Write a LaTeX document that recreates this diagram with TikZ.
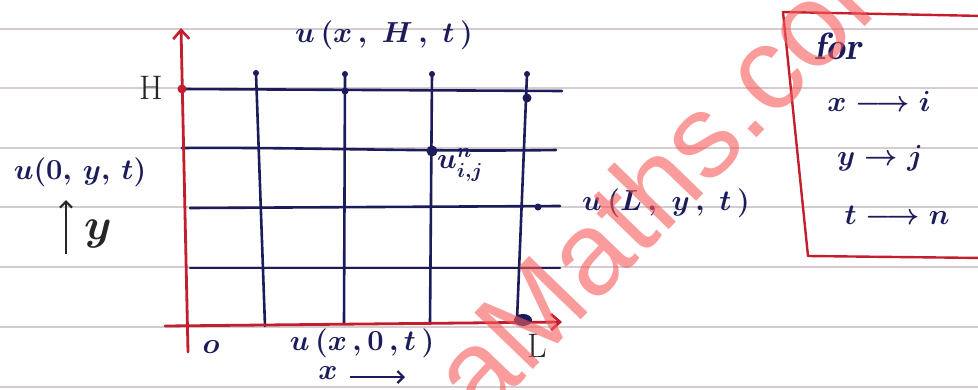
\RequirePackage{fix-cm}
\documentclass[tikz,border=0pt]{standalone}
\usepackage{fontspec}
\usetikzlibrary{arrows.meta}
\newfontfamily\wmfont{Liberation Sans}
\definecolor{ink}{RGB}{28,28,92}
\definecolor{redink}{RGB}{195,30,45}
\definecolor{ruled}{RGB}{212,204,207}
\definecolor{wm}{RGB}{248,90,90}
\tikzset{
  ruleline/.style={ruled, line width=1.2pt},
  gridline/.style={ink, line width=2.6pt, line cap=round},
  axisline/.style={redink, line width=2.8pt, line cap=round},
  hw/.style={ink, inner sep=0pt, font=\fontsize{29}{33}\selectfont\boldmath},
  barb/.style={-{Straight Barb[length=6pt,width=12pt,line width=2.2pt]}}
}
\begin{document}
\begin{tikzpicture}[x=1pt,y=-1pt]
\useasboundingbox (0,0) rectangle (978,389);
\fill[white] (0,0) rectangle (978,389);
\clip (0,0) rectangle (978,389);
% ruled notebook lines
\foreach \yy in {29,88,148,207,267,327,387}
  \draw[ruleline] (0,\yy) -- (978,\yy);
% grid coordinates
\coordinate (h1a) at (182,89);  \coordinate (h1b) at (562,91);
\coordinate (h2a) at (182,148); \coordinate (h2b) at (556,150);
\coordinate (h3a) at (190,208); \coordinate (h3b) at (560,206);
\coordinate (h4a) at (190,268); \coordinate (h4b) at (560,268);
\coordinate (v1a) at (256,73);  \coordinate (v1b) at (265,326);
\coordinate (v2a) at (345,74);  \coordinate (v2b) at (344,324);
\coordinate (v3a) at (432,74);  \coordinate (v3b) at (430,324);
\coordinate (v4a) at (527,74);  \coordinate (v4b) at (517,320);
\draw[gridline] (h1a) -- (h1b);
\draw[gridline] (h2a) .. controls (300,147) and (420,152) .. (h2b);
\draw[gridline] (h3a) -- (h3b);
\draw[gridline] (h4a) -- (h4b);
\draw[gridline] (v1a) -- (v1b);
\draw[gridline] (v2a) -- (v2b);
\draw[gridline] (v3a) -- (v3b);
\draw[gridline] (v4a) -- (v4b);
% ink dots
\foreach \p in {v1a,v2a,v3a,v4a}
  \fill[ink] (\p) circle (3);
\fill[ink] (345,91) circle (3.5);
\fill[ink] (432,151) circle (5.5);
\fill[ink] (527,98) circle (4.5);
\fill[ink] (538,207) circle (3.5);
% axes
\coordinate (yb) at (188,352); \coordinate (yt) at (181,28);
\coordinate (xl) at (165,326); \coordinate (xr) at (562,322);
\draw[axisline, -{Straight Barb[length=9pt,width=16pt,line width=2.6pt]}] (yb) -- (yt);
\draw[axisline, -{Straight Barb[length=9pt,width=16pt,line width=2.6pt]}] (xl) -- (xr);
\fill[redink] (h1a) circle (4.5);
\fill[ink] (523,320) ellipse (9 and 6);
% labels
\node[hw] (uxHt) at (384,35) {$u\,(x\,,\;H\,,\;t\,)$};
\node[hw, black!85, font=\fontsize{34}{38}\selectfont] (Hl) at (151,88) {$\mathrm{H}$};
\node[hw] (u0yt) at (80,172) {$u(0,\,y,\,t)$};
\node[hw, black!85, font=\fontsize{44}{48}\selectfont\boldmath] (yl) at (98,234) {$y$};
\coordinate (ya1) at (66,254); \coordinate (ya2) at (66,200);
\draw[black!85, line width=2.8pt, barb] (ya1) -- (ya2);
\node[hw] (Ol) at (211,347) {$o$};
\node[hw] (ux0t) at (362,343) {$u\,(x\,,0\,,t\,)$};
\node[hw] (xl2) at (328,373) {$x$};
\coordinate (xa1) at (350,377); \coordinate (xa2) at (405,377);
\draw[ink, line width=2.4pt, barb] (xa1) -- (xa2);
\node[hw, black!85, font=\fontsize{34}{38}\selectfont] (Ll) at (537,346) {$\mathrm{L}$};
\node[hw] (uij) at (460,165) {$u^{n}_{i,j}$};
\node[hw] (uLyt) at (666,203) {$u\,(L\,,\;y\,,\;t\,)$};
% box
\coordinate (b1) at (783,12); \coordinate (b2) at (985,16);
\coordinate (b3) at (808,256); \coordinate (b4) at (985,258);
\draw[redink, line width=2.4pt, line join=round] (b2) -- (b1) -- (b3) -- (b4);
\node[hw, font=\fontsize{38}{42}\selectfont\boldmath] (for) at (838,46) {$\mathit{for}$};
\node[hw] (xi) at (879,101) {$x\longrightarrow i$};
\node[hw] (yj) at (880,158) {$y\rightarrow j$};
\node[hw] (tn) at (897,215) {$t\longrightarrow n$};
% watermark
\node[wm, opacity=0.6, rotate=46, anchor=base west, inner sep=0pt,
      font=\wmfont\fontsize{118}{118}\selectfont] (wmark) at (481,424) {aMaths.com};
\end{tikzpicture}
\end{document}
